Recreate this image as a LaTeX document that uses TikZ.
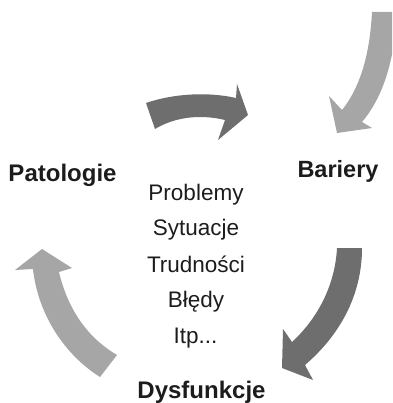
\documentclass[tikz,border=0pt]{standalone}
\usepackage{fontspec}
\setmainfont{Liberation Sans}
\definecolor{darkarrow}{HTML}{6E6E6E}
\definecolor{lightarrow}{HTML}{A6A6A6}
\definecolor{txt}{HTML}{1C1C1C}
\begin{document}
\begin{tikzpicture}[x=1pt,y=-1pt,
  stage/.style={text=txt,font=\bfseries\fontsize{24}{28}\selectfont,inner sep=0pt,anchor=base},
  item/.style={text=txt,font=\fontsize{22.5}{26}\selectfont,inner sep=0pt,anchor=base},
  darkfill/.style={fill=darkarrow,draw=none},
  lightfill/.style={fill=lightarrow,draw=none}]
\useasboundingbox (0,0) rectangle (392,403);
\clip (0,0) rectangle (392,403);
% arrows
\fill[darkfill] (146,103) .. controls (175,93) and (210,92) .. (236,98) -- (237,84) -- (248,115) -- (218,140) -- (225,120) .. controls (200,114) and (175,117) .. (155,129) -- cycle;
\fill[lightfill] (372,12) .. controls (370,50) and (362,85) .. (342,110) -- (329,96) -- (337,133) -- (372,128) -- (362,122) .. controls (385,95) and (395,55) .. (397,12) -- cycle;
\fill[darkfill] (337,248) .. controls (335,285) and (318,318) .. (292,342) -- (283,329) -- (282,368) -- (313,380) -- (305,365) .. controls (340,335) and (362,295) .. (362,248) -- cycle;
\fill[lightfill] (42,249) -- (72,268) -- (59,272) .. controls (68,310) and (88,338) .. (117,355) -- (100,377) .. controls (65,355) and (38,315) .. (33,269) -- (15,270) -- cycle;
% labels
\node[stage] (pat) at (62.5,182) {Patologie};
\node[stage,font=\bfseries\fontsize{23.5}{28}\selectfont] (bar) at (338,178) {Bariery};
\node[stage] (dys) at (201.5,398) {Dysfunkcje};
\node[item] (p1) at (196,200) {Problemy};
\node[item] (p2) at (196,235) {Sytuacje};
\node[item] (p3) at (196,272) {Trudności};
\node[item] (p4) at (196,307) {Błędy};
\node[item] (p5) at (195.5,343) {Itp...};
\end{tikzpicture}
\end{document}
